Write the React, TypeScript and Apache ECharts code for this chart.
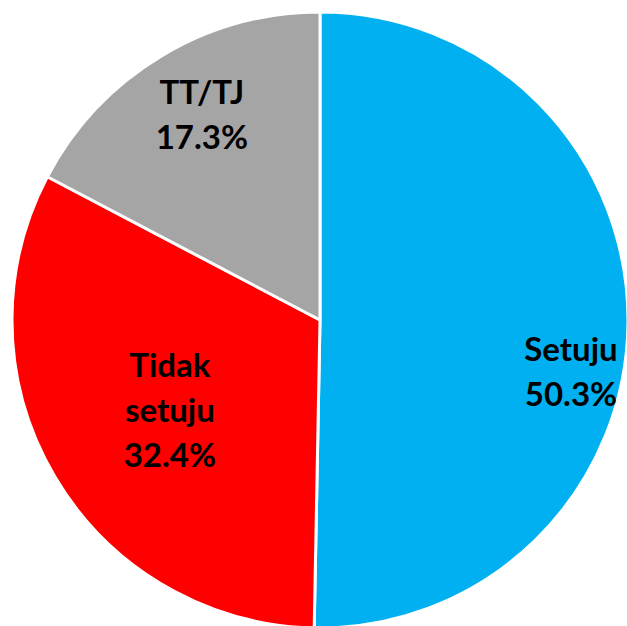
import React, { useEffect, useRef } from "react";
import * as echarts from "echarts";

const categories = ["Setuju", "Tidak\nsetuju", "TT/TJ"];
const values = [50.3, 32.4, 17.3];
const colors = ["#00B0F0", "#FF0000", "#A5A5A5"];
const labelShift = [
  [94, 49],
  [-15, 9],
  [-37, -72],
];

export default function App() {
  const ref = useRef<HTMLDivElement>(null);
  useEffect(() => {
    if (!ref.current) return;
    const chart = echarts.init(ref.current, undefined, { renderer: "svg" });
    chart.setOption({
      animation: false,
      series: [
        {
          type: "pie",
          center: [320, 320],
          radius: [0, 308],
          startAngle: 90,
          clockwise: true,
          data: categories.map((c, i) => ({
            name: c,
            value: values[i],
            itemStyle: { color: colors[i] },
          })),
          itemStyle: { borderColor: "#ffffff", borderWidth: 3 },
          label: {
            show: true,
            position: "inside",
            formatter: (p: any) => `${p.name}\n${p.value.toFixed(1)}%`,
            fontFamily: "Lato",
            fontWeight: "bold",
            fontSize: 33,
            lineHeight: 45,
            color: "#000000",
            align: "center",
          },
          labelLayout: (p: any) => ({
            dx: labelShift[p.dataIndex][0],
            dy: labelShift[p.dataIndex][1],
          }),
          emphasis: { disabled: true },
        },
      ],
    });
    return () => chart.dispose();
  }, []);
  return (
    <div
      ref={ref}
      style={{ position: "fixed", left: 0, top: 0, width: 627, height: 626, background: "#fff" }}
    />
  );
}
